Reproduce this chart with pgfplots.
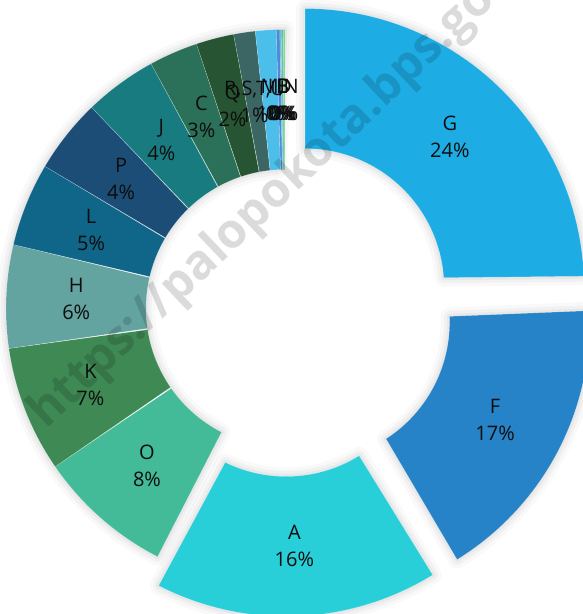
\documentclass[border=0pt]{standalone}
\usepackage{pgfplots}
\pgfplotsset{compat=1.18}
\usepackage{fontspec}
\setmainfont{Open Sans}
\definecolor{cG}{HTML}{1EACE4}
\definecolor{cF}{HTML}{2783C7}
\definecolor{cA}{HTML}{28CED8}
\definecolor{cO}{HTML}{43BB98}
\definecolor{cK}{HTML}{3E8954}
\definecolor{cH}{HTML}{63A3A0}
\definecolor{cL}{HTML}{106689}
\definecolor{cP}{HTML}{1B4D76}
\definecolor{cJ}{HTML}{187B80}
\definecolor{cC}{HTML}{2B7058}
\definecolor{cQ}{HTML}{275534}
\definecolor{cR}{HTML}{3B6663}
\definecolor{cI}{HTML}{4CBEEA}
\definecolor{cM}{HTML}{4A8ADB}
\definecolor{cE}{HTML}{6CB9D6}
\definecolor{cB}{HTML}{5BC7A5}
\definecolor{cD}{HTML}{86CF9A}
\tikzset{lbl/.style={align=center, text=black!95, font=\fontsize{20}{27}\selectfont, inner sep=0pt}}
% slice: #1 start (cumulative %), #2 end (cumulative %), #4 explode offset
\newcommand{\sliceshape}[4]{%
  \addplot[#3, domain=0:2, samples=101, variable=\t]
   ({285 + #4*sin(1.8*(#1+#2)) + (139+140*(\t<1.0001))*sin(3.6*(#1+(#2-#1)*min(\t,2-\t)))},
    {-308.5 + #4*cos(1.8*(#1+#2)) + (139+140*(\t<1.0001))*cos(3.6*(#1+(#2-#1)*min(\t,2-\t)))}) -- cycle;
}
\newcommand{\slice}[4]{%
  \sliceshape{#1}{#2}{fill=#3, draw=white, draw opacity=0.3, line width=0.4pt}{#4}}
\newcommand{\sliceshadow}[3]{%
  \sliceshape{#1}{#2}{draw=black, opacity=0.022, line width=18pt, line join=round}{#3}%
  \sliceshape{#1}{#2}{draw=black, opacity=0.03, line width=11pt, line join=round}{#3}%
  \sliceshape{#1}{#2}{draw=black, opacity=0.04, line width=5pt, line join=round}{#3}}
\newcommand{\slabel}[4]{%
  \node[lbl] at (axis cs:{285+(#3+209)*sin(1.8*(#1+#2))},{-308.5+(#3+209)*cos(1.8*(#1+#2))}) {#4};}
\begin{document}
\begin{tikzpicture}
\begin{axis}[name=ax, hide axis, scale only axis, width=583pt, height=614pt,
  xmin=0, xmax=583, ymin=-614, ymax=0]
% shadows
\sliceshadow{0}{24.35}{29}
\sliceshadow{24.35}{41.20}{29}
\sliceshadow{41.20}{57.55}{29}
\sliceshadow{57.55}{100}{0}
% slices
\slice{0}{24.35}{cG}{29}
\slice{24.35}{41.20}{cF}{29}
\slice{41.20}{57.55}{cA}{29}
\slice{57.55}{65.41}{cO}{0}
\slice{65.41}{72.71}{cK}{0}
\slice{72.71}{78.68}{cH}{0}
\slice{78.68}{83.51}{cL}{0}
\slice{83.51}{87.81}{cP}{0}
\slice{87.81}{92.03}{cJ}{0}
\slice{92.03}{94.86}{cC}{0}
\slice{94.86}{97.05}{cQ}{0}
\slice{97.05}{98.30}{cR}{0}
\slice{98.30}{99.50}{cI}{0}
\slice{99.50}{99.70}{cM}{0}
\slice{99.70}{99.78}{cE}{0}
\slice{99.78}{99.90}{cB}{0}
\slice{99.90}{100}{cD}{0}
% labels
\slabel{0}{24.35}{29}{G\\24\%}
\slabel{24.35}{41.20}{29}{F\\17\%}
\slabel{41.20}{57.55}{29}{A\\16\%}
\slabel{57.55}{65.41}{0}{O\\8\%}
\slabel{65.41}{72.71}{0}{K\\7\%}
\slabel{72.71}{78.68}{0}{H\\6\%}
\slabel{78.68}{83.51}{0}{L\\5\%}
\slabel{83.51}{87.81}{0}{P\\4\%}
\slabel{87.81}{92.03}{0}{J\\4\%}
\slabel{92.03}{94.86}{0}{C\\3\%}
\slabel{94.86}{97.05}{0}{Q\\2\%}
\slabel{97.05}{98.30}{0}{R,S,T,U\\1\%}
\slabel{98.30}{99.50}{0}{I\\1\%}
\slabel{99.50}{99.70}{0}{M,N\\0\%}
\slabel{99.70}{99.78}{0}{E\\0\%}
\slabel{99.78}{99.90}{0}{B\\0\%}
\slabel{99.90}{100}{0}{D\\0\%}
% watermark
\node[rotate=43.5, anchor=base west, text=black, text opacity=0.14, font=\fontsize{48}{58}\selectfont\bfseries, inner sep=0pt] at (axis cs:46,-430) {https://palopokota.bps.go.id};
\end{axis}
\pgfresetboundingbox
\path[use as bounding box] (ax.south west) rectangle (ax.north east);
\end{tikzpicture}
\end{document}
